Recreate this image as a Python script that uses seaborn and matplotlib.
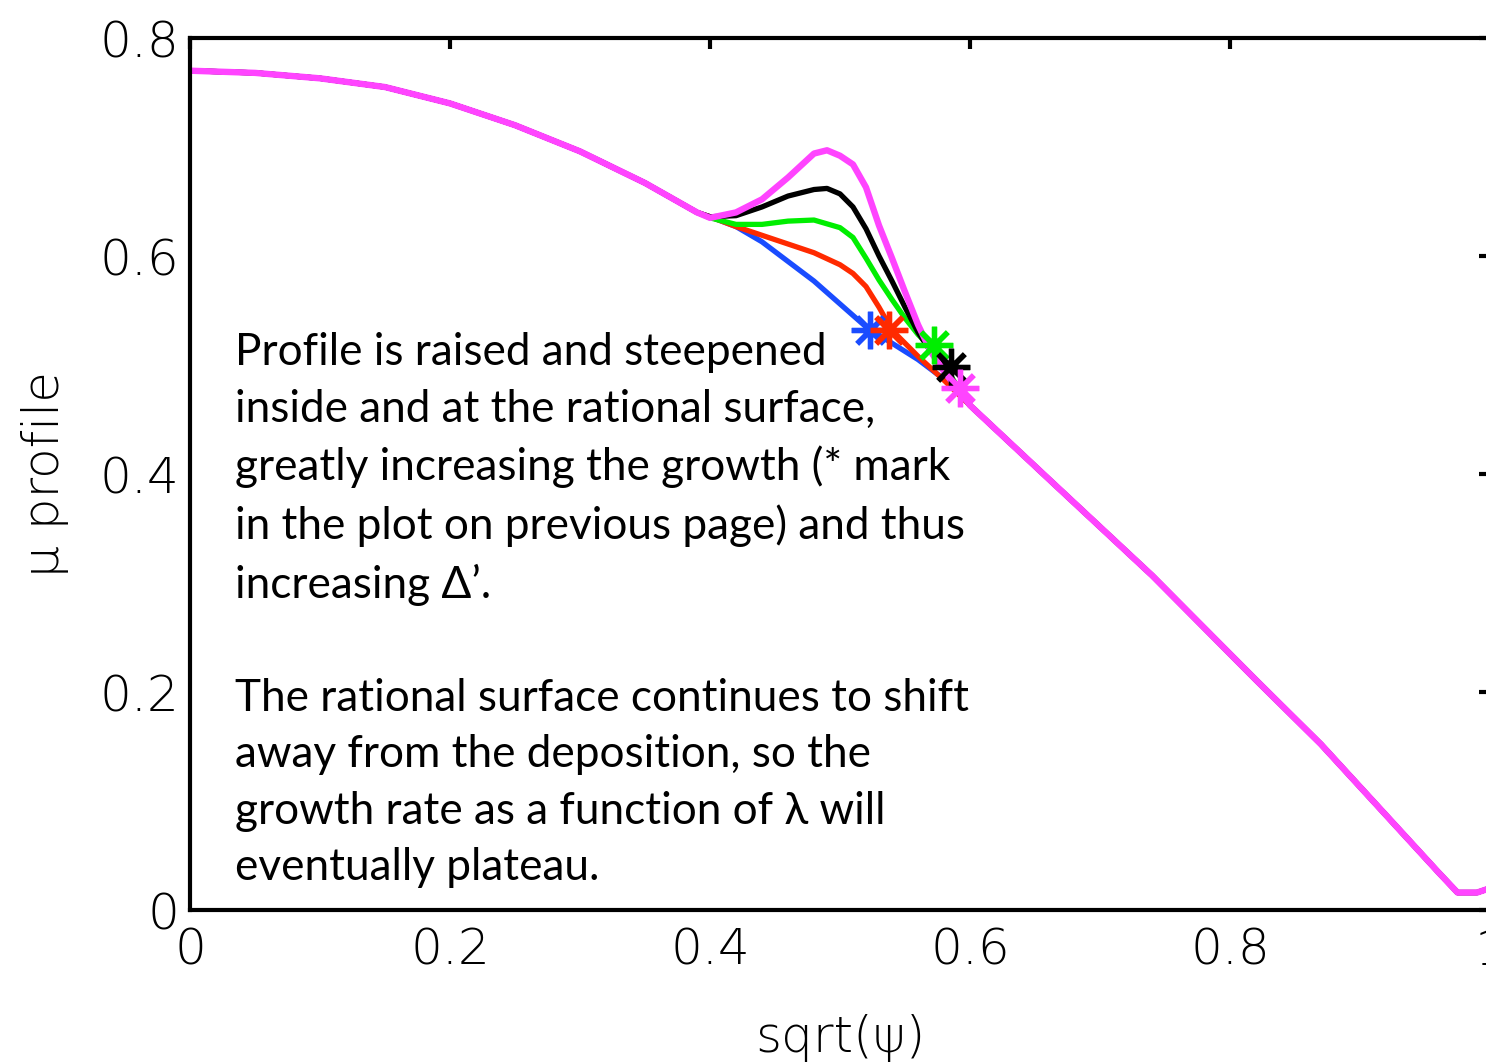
import numpy as np
import pandas as pd
import matplotlib
matplotlib.use("Agg")
import matplotlib.pyplot as plt
import seaborn as sns

# ---------------- data ----------------
common_x = [0.00, 0.05, 0.10, 0.15, 0.20, 0.25, 0.30, 0.35, 0.39]
common_y = [0.770, 0.768, 0.763, 0.755, 0.740, 0.720, 0.696, 0.667, 0.640]

tail_x = [0.60, 0.66, 0.74, 0.82, 0.87, 0.92, 0.96, 0.975, 0.99, 1.00]
tail_y = [0.463, 0.396, 0.307, 0.211, 0.152, 0.087, 0.035, 0.016, 0.016, 0.020]

blue_x = [0.40, 0.42, 0.44, 0.46, 0.48, 0.50, 0.52, 0.54, 0.56, 0.58]
blue_y = [0.636, 0.627, 0.613, 0.595, 0.577, 0.556, 0.535, 0.520, 0.505, 0.487]

red_x = [0.40, 0.42, 0.44, 0.46, 0.48, 0.50, 0.51, 0.52, 0.53, 0.54, 0.56, 0.58]
red_y = [0.636, 0.627, 0.619, 0.611, 0.603, 0.592, 0.584, 0.572, 0.553, 0.532, 0.508, 0.486]

green_x = [0.40, 0.42, 0.44, 0.46, 0.48, 0.50, 0.51, 0.52, 0.53, 0.54, 0.55, 0.56, 0.57, 0.58, 0.59]
green_y = [0.635, 0.629, 0.629, 0.632, 0.633, 0.626, 0.617, 0.598, 0.578, 0.560, 0.543, 0.528, 0.516, 0.500, 0.481]

black_x = [0.40, 0.42, 0.44, 0.46, 0.48, 0.49, 0.50, 0.51, 0.52, 0.53, 0.54, 0.55, 0.56, 0.57, 0.58, 0.59]
black_y = [0.636, 0.637, 0.645, 0.655, 0.661, 0.662, 0.657, 0.645, 0.625, 0.600, 0.577, 0.553, 0.530, 0.512, 0.499, 0.480]

magenta_x = [0.40, 0.42, 0.44, 0.46, 0.48, 0.49, 0.50, 0.51, 0.52, 0.53, 0.54, 0.55, 0.56, 0.57, 0.58, 0.59]
magenta_y = [0.635, 0.640, 0.652, 0.672, 0.694, 0.697, 0.692, 0.684, 0.663, 0.628, 0.598, 0.567, 0.537, 0.512, 0.494, 0.479]

# rational-surface marks (*)
mark_x = [0.523, 0.538, 0.572, 0.585, 0.592]
mark_y = [0.532, 0.532, 0.518, 0.498, 0.479]

series_names = ["blue", "red", "green", "black", "magenta"]
series_colors = ["#1a4cff", "#ff2a00", "#00ee00", "#000000", "#ff44ff"]
branches = [(blue_x, blue_y), (red_x, red_y), (green_x, green_y),
            (black_x, black_y), (magenta_x, magenta_y)]

x_ticks = [0, 0.2, 0.4, 0.6, 0.8, 1]
x_tick_labels = ["0", "0.2", "0.4", "0.6", "0.8", "1"]
y_ticks = [0, 0.2, 0.4, 0.6, 0.8]
y_tick_labels = ["0", "0.2", "0.4", "0.6", "0.8"]

note = ("Profile is raised and steepened\n"
        "inside and at the rational surface,\n"
        "greatly increasing the growth (* mark\n"
        "in the plot on previous page) and thus\n"
        "increasing \u0394\u2019.\n"
        "\n"
        "The rational surface continues to shift\n"
        "away from the deposition, so the\n"
        "growth rate as a function of \u03bb will\n"
        "eventually plateau.")

# ---------------- build table ----------------
rows = []
for name, (bx, by) in zip(series_names, branches):
    xs = list(common_x) + list(bx) + list(tail_x)
    ys = list(common_y) + list(by) + list(tail_y)
    for i, (a, b) in enumerate(zip(xs, ys)):
        rows.append({"series": name, "order": i, "x": a, "y": b})
df = pd.DataFrame(rows)

# ---------------- figure ----------------
sns.set_style("white")
plt.rcParams["font.family"] = ["DejaVu Sans"]
plt.rcParams["text.color"] = "black"
plt.rcParams["axes.labelcolor"] = "black"
plt.rcParams["xtick.color"] = "black"
plt.rcParams["ytick.color"] = "black"

W, H = 1486, 1064
fig = plt.figure(figsize=(W / 100, H / 100), dpi=100)
ax = fig.add_axes([190 / W, (H - 910) / H, 1300 / W, 872 / H])

for name, col in zip(series_names, series_colors):
    sub = df[df["series"] == name]
    lw = 4.6 if name == "magenta" else 3.8
    sns.lineplot(data=sub, x="x", y="y", sort=False, color=col, lw=lw, ax=ax,
                 estimator=None)

for mx, my, col in zip(mark_x, mark_y, series_colors):
    ax.plot([mx], [my], marker=(8, 2, 0), markersize=27, mew=3.8,
            color=col, linestyle="none")

ax.set_xlim(0, 1)
ax.set_ylim(0, 0.8)
ax.set_xticks(x_ticks)
ax.set_xticklabels(x_tick_labels)
ax.set_yticks(y_ticks)
ax.set_yticklabels(y_tick_labels)

for s in ax.spines.values():
    s.set_linewidth(3)
    s.set_color("black")

ax.tick_params(axis="both", direction="in", length=8, width=3,
               top=True, right=True, labelsize=36, colors="black")
ax.tick_params(axis="x", pad=12)
ax.tick_params(axis="y", pad=8)
for lab in ax.get_xticklabels() + ax.get_yticklabels():
    lab.set_fontweight("light")
    lab.set_color("black")

ax.set_xlabel("sqrt(\u03c8)", fontsize=36, fontweight="light", labelpad=28,
              color="black")
ax.set_ylabel("\u03bc profile", fontsize=36, fontweight="light", labelpad=22,
              color="black")

fig.text(235 / W, 1 - 332 / H, note, fontsize=31.8, family=["Lato", "DejaVu Sans"],
         va="top", ha="left", linespacing=1.47, color="black")

fig.savefig("out.png", dpi=100)
